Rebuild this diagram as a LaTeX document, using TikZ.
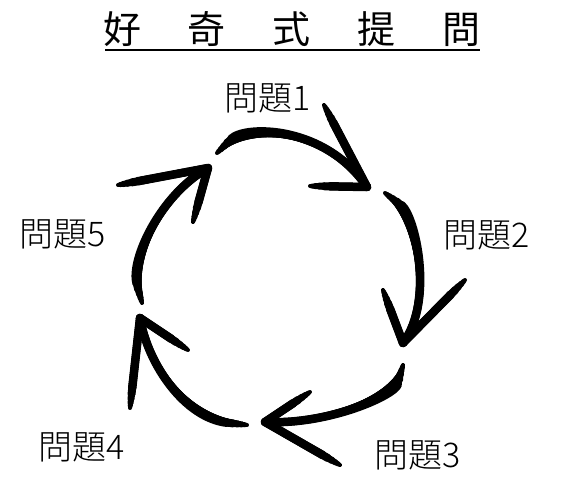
\documentclass[tikz,border=0pt]{standalone}
\usepackage{fontspec}
\setmainfont{Noto Sans CJK TC}
\newfontfamily\lightcjk{Noto Sans CJK TC Light}
\usetikzlibrary{positioning}

\begin{document}
\begin{tikzpicture}[x=1pt,y=-1pt,
        stroke/.style={line cap=round, line join=round},
        question/.style={font=\lightcjk\fontsize{34}{34}\selectfont, inner sep=0pt},
        heading/.style={font=\fontsize{38}{38}\selectfont, inner sep=0pt}
        ]
    \useasboundingbox (0,0) rectangle (567,486);

    % title with its underline
    \node[heading] (title) at (292,29) {好\hspace{47pt}奇\hspace{47pt}式\hspace{47pt}提\hspace{47pt}問};
    \coordinate (ulA) at (105,50);
    \coordinate (ulB) at (480,50);
    \draw[line width=2pt] (ulA) -- (ulB);

    % the five questions
    \foreach \n/\px/\py in {1/268/98, 2/487/235, 3/418/455, 4/82/447, 5/63/234} {
        \node[question] (q\n) at (\px,\py) {問題\n};
    }

    % arrow ends: s = start, t = tip, a and b = the two barbs
    \coordinate (s1) at (217,153); \coordinate (t1) at (367,187);
    \coordinate (a1) at (324,105); \coordinate (b1) at (310,186);
    \coordinate (s2) at (385,193); \coordinate (t2) at (403,343);
    \coordinate (a2) at (465,280); \coordinate (b2) at (383,290);
    \coordinate (s3) at (403,365); \coordinate (t3) at (265,422);
    \coordinate (a3) at (340,465); \coordinate (b3) at (310,392);
    \coordinate (s4) at (247,425); \coordinate (t4) at (140,318);
    \coordinate (a4) at (130,408); \coordinate (b4) at (188,350);
    \coordinate (s5) at (142,303); \coordinate (t5) at (208,168);
    \coordinate (a5) at (118,185); \coordinate (b5) at (193,222);

    % brush look: each stroke laid down thin to thick, cut back from its free end
    \foreach \w/\cut in {4/0, 5/2, 6/5, 7/9, 8/14, 8.5/20} {
        \begin{scope}[stroke, line width=\w pt, shorten <=\cut pt]
        % shafts round the circle
        \draw (s1) .. controls (245,125) and (325,125) .. (t1);
        \draw (s2) .. controls (415,215) and (435,300) .. (t2);
        \draw (s3) .. controls (395,395) and (330,425) .. (t3);
        \draw (s4) .. controls (185,418) and (148,365) .. (t4);
        \draw (s5) .. controls (130,260) and (160,195) .. (t5);
        % open heads
        \foreach \i in {1,...,5} {
            \draw (a\i) -- (t\i);
            \draw (b\i) -- (t\i);
        }
        \end{scope}
    }
\end{tikzpicture}
\end{document}
